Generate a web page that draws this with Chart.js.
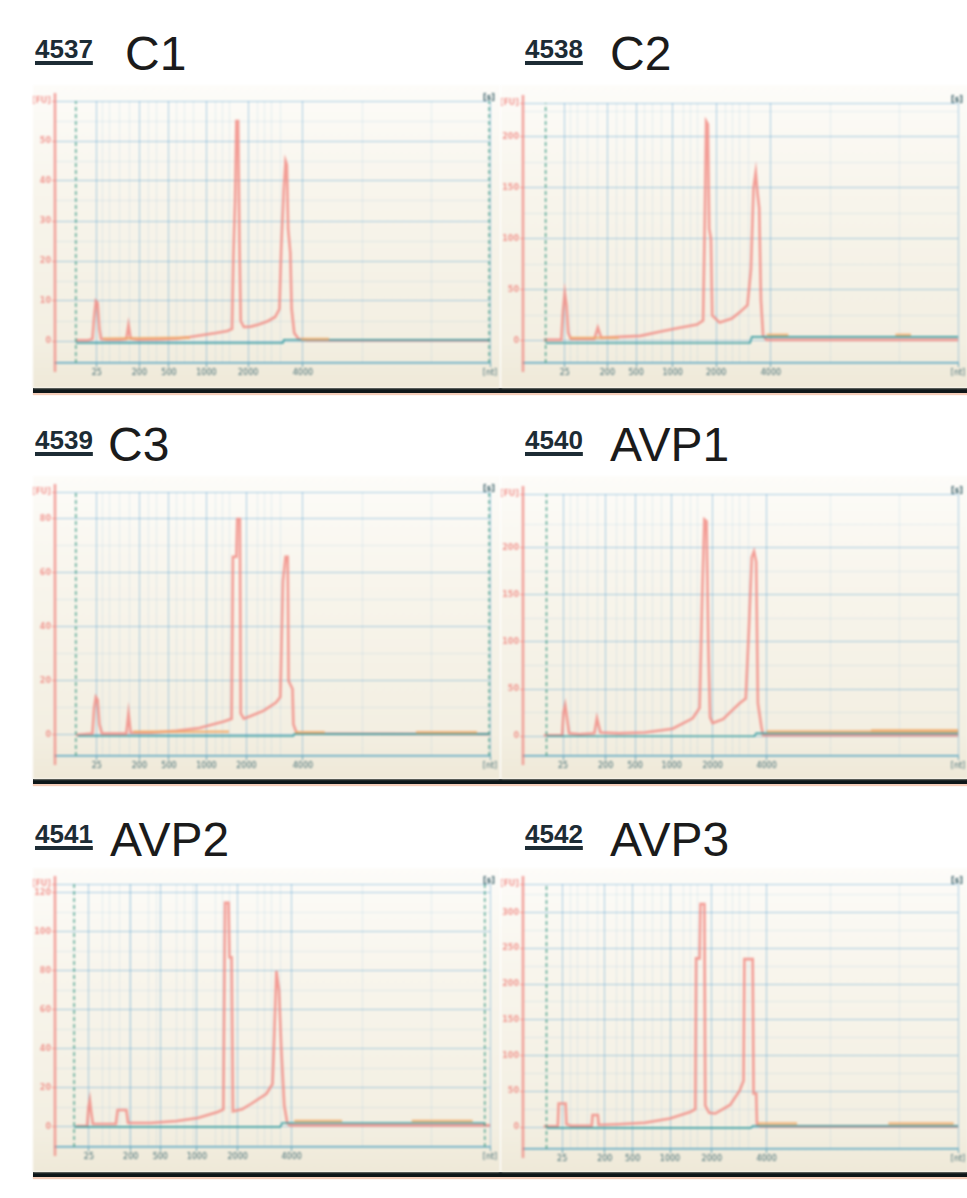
<!DOCTYPE html>
<html>
<head>
<meta charset="utf-8">
<script src="https://cdn.jsdelivr.net/npm/chart.js@4/dist/chart.umd.min.js"></script>
<style>
  html, body { margin: 0; padding: 0; }
  body { width: 967px; height: 1198px; background: #ffffff; position: relative; overflow: hidden;
         font-family: "Liberation Sans", Arial, sans-serif; }
  .plot { position: absolute; width: 467px;
          background: linear-gradient(180deg, #fdfcf9 0%, #f8f5ec 35%, #f3efe2 85%, #efe9d8 100%);
          filter: blur(0.85px); }
  .sid { position: absolute; font: bold 26px/1 "Liberation Sans", Arial, sans-serif; color: #1d2c35;
         text-decoration: underline; text-decoration-thickness: 4px; text-underline-offset: 3px; }
  .sname { position: absolute; font: 48px/1 "Liberation Sans", Arial, sans-serif; color: #1b1b1b; }
  .rule { position: absolute; left: 33px; width: 934px; height: 5px; background: #0e1719;
          box-shadow: 0 2px 1px #f5cdb9; }
</style>
</head>
<body>
<script>
// ---- electropherogram data (migration time in s, fluorescence in FU) ----
const xMin = 19, xMax = 69;
const ladderSizes = [25, 200, 500, 1000, 2000, 4000];
const minorTimes = [24.5, 25.3, 26.4, 27.6, 29.7, 30.7, 33.0, 33.9, 34.9, 37.4, 38.2, 39.1,
                    42.3, 43.1, 43.9, 44.9, 54.4, 62.3];

const sampleIds = ['4537', '4538', '4539', '4540', '4541', '4542'];
const sampleNames = ['C1', 'C2', 'C3', 'AVP1', 'AVP2', 'AVP3'];

const ladderTimesC1 = [23.8, 28.7, 32.1, 36.4, 41.2, 47.5];
const ladderTimesC2 = [23.8, 28.7, 32.0, 36.2, 41.2, 47.5];
const ladderTimesC3 = [23.8, 28.7, 32.1, 36.4, 41.0, 47.5];
const ladderTimesAVP1 = [23.6, 28.5, 31.9, 36.1, 40.8, 47.0];
const ladderTimesAVP2 = [22.9, 27.7, 31.1, 35.3, 40.0, 46.2];
const ladderTimesAVP3 = [23.5, 28.4, 31.6, 35.9, 40.7, 47.0];

const yTicksC1 = [0, 10, 20, 30, 40, 50];
const yTicksC2 = [0, 50, 100, 150, 200];
const yTicksC3 = [0, 20, 40, 60, 80];
const yTicksAVP1 = [0, 50, 100, 150, 200];
const yTicksAVP2 = [0, 20, 40, 60, 80, 100, 120];
const yTicksAVP3 = [0, 50, 100, 150, 200, 250, 300];

const yRangeC1 = [-5.5, 60];
const yRangeC2 = [-21.6, 233];
const yRangeC3 = [-7.8, 90];
const yRangeAVP1 = [-21, 257];
const yRangeAVP2 = [-10.3, 124.6];
const yRangeAVP3 = [-30.6, 340];

const windowC1 = [21.4, 68.9];
const windowC2 = [21.6, 69.2];
const windowC3 = [21.4, 68.9];
const windowAVP1 = [21.7, 69.2];
const windowAVP2 = [21.2, 68.4];
const windowAVP3 = [21.7, 69.2];

const traceC1 = [[21.4,0.2],[22.8,0.2],[23.3,0.5],[23.5,6],[23.7,10],[23.9,9.5],[24.1,3],[24.3,0.5],
  [25.0,0.3],[26.5,0.3],[27.2,0.5],[27.45,4],[27.7,0.6],[28.5,0.3],[31.0,0.4],[33.0,0.6],[34.5,1.0],
  [36.0,1.5],[37.5,2.0],[38.8,2.5],[39.35,3.0],[39.5,21],[39.7,35],[39.85,55],[40.05,55],[40.2,25],
  [40.35,5],[40.7,3.5],[41.5,3.6],[42.5,4.2],[43.5,5],[44.3,6],[44.8,8],[45.0,23],[45.3,38],[45.5,45],
  [45.65,44],[45.8,28],[46.05,22],[46.2,8],[46.5,2],[47.0,0.5],[48,0.2],[69,0.2]];
const traceC2 = [[21.4,1],[23.4,1],[23.6,30],[23.8,47],[24.0,35],[24.2,8],[24.5,2],[27.2,2],[27.6,13],
  [28.0,3],[30.1,4],[32.5,5],[34.7,9],[37,13],[39.0,16],[39.7,20],[39.9,120],[40.05,215],[40.25,212],
  [40.4,110],[40.6,100],[40.75,25],[41.6,18],[43,22],[43.9,28],[44.8,35],[45.2,70],[45.5,150],
  [45.75,165],[45.95,145],[46.15,130],[46.35,40],[46.6,5],[47,1],[69,1]];
const traceC3 = [[21.4,0],[23.3,0.5],[23.5,10],[23.7,14],[23.9,13],[24.1,4],[24.4,0.5],[27.2,0.5],
  [27.45,8],[27.7,0.8],[30,0.8],[33,1.5],[35.6,2.6],[38.4,5],[39.3,6],[39.45,66],[39.85,66],[39.95,80],
  [40.25,80],[40.35,8],[40.7,6],[41.5,7],[43,9],[44.4,12],[44.9,14],[45.2,57],[45.5,66],[45.75,66],
  [45.85,20],[46.3,17],[46.4,4],[46.8,0.5],[69,0.3]];
const traceAVP1 = [[21.4,1],[23.5,1],[23.65,25],[23.85,33],[24.05,20],[24.3,3],[25.5,2],[27.2,3],
  [27.5,19],[27.9,4],[30,3],[33,4],[36.2,8],[38.5,19],[39.3,30],[39.6,150],[39.85,230],[40.1,228],
  [40.3,100],[40.5,20],[40.8,14],[42,18],[43.1,28],[43.9,35],[44.6,40],[44.95,110],[45.3,190],
  [45.55,196],[45.8,185],[46.0,35],[46.4,10],[46.6,1],[69,1]];
const traceAVP2 = [[21.4,0.5],[22.7,0.5],[22.85,10],[23.0,13.8],[23.15,8],[23.35,1.5],[26.0,1.5],
  [26.2,8.7],[27.2,8.7],[27.4,2],[30,2],[33,3],[35.4,4.6],[37.7,7.7],[38.35,9],[38.55,115],[38.95,115],
  [39.05,87],[39.3,87],[39.45,8],[40.5,9],[41.6,12],[43.3,17],[44.0,22],[44.15,40],[44.45,80],
  [44.75,70],[45.0,41],[45.35,11],[45.7,2],[46,0.8],[69,0.8]];
const traceAVP3 = [[21.4,1],[23.0,1],[23.1,33],[23.9,33],[24.0,4],[24.5,2],[26.9,2],[27.0,17],
  [27.6,17],[27.7,3],[30,4],[33,6],[35.9,12],[38.2,21],[38.8,25],[38.9,236],[39.3,236],[39.4,312],
  [39.85,312],[39.95,30],[40.4,20],[41.1,19],[42.8,31],[43.9,51],[44.35,65],[44.45,235],[45.4,235],
  [45.5,47],[45.8,47],[45.9,3],[46.3,1],[69,1]];

const baselineC1 = [[21.4,-0.5],[45.2,-0.5],[45.3,0.3],[68.9,0.3]];
const baselineC2 = [[21.6,-2],[45.1,-2],[45.3,4],[69.2,4]];
const baselineC3 = [[21.6,-0.4],[46.4,-0.4],[46.5,0.3],[68.9,0.3]];
const baselineAVP1 = [[21.7,0],[45.6,0],[45.8,3],[69.2,3]];
const baselineAVP2 = [[21.2,0],[44.9,0],[45.1,2],[68.4,2]];
const baselineAVP3 = [[21.7,-1],[45.2,-1],[45.4,1.5],[69.2,1.5]];

const orangeC1 = [[[24.5,0.6],[34.5,0.8]], [[47.3,0.5],[50.5,0.5]]];
const orangeC2 = [[[24.4,3],[30.0,3]], [[47.0,6],[49.5,6]], [[61.8,6],[63.6,6]]];
const orangeC3 = [[[28.0,1.2],[39.0,1.2]], [[46.6,1],[50.0,1]], [[60.5,1],[67.5,1]]];
const orangeAVP1 = [[[47.0,5],[69.0,5]], [[59.0,6],[69.0,6]]];
const orangeAVP2 = [[[46.5,3],[52.0,3]], [[60.0,3],[67.0,3]]];
const orangeAVP3 = [[[46.0,5],[50.5,5]], [[61.0,5],[68.5,5]]];

// ---- page layout ----
const panels = [
  { trace: traceC1, ladder: ladderTimesC1, yTicks: yTicksC1, yRange: yRangeC1, win: windowC1, base: baselineC1, orange: orangeC1,
    left: 33, top: 85, h: 303, padTop: 16, xAxisH: 25 },
  { trace: traceC2, ladder: ladderTimesC2, yTicks: yTicksC2, yRange: yRangeC2, win: windowC2, base: baselineC2, orange: orangeC2,
    left: 501, top: 85, h: 303, padTop: 18, xAxisH: 25 },
  { trace: traceC3, ladder: ladderTimesC3, yTicks: yTicksC3, yRange: yRangeC3, win: windowC3, base: baselineC3, orange: orangeC3,
    left: 33, top: 476, h: 303, padTop: 16, xAxisH: 23 },
  { trace: traceAVP1, ladder: ladderTimesAVP1, yTicks: yTicksAVP1, yRange: yRangeAVP1, win: windowAVP1, base: baselineAVP1, orange: orangeAVP1,
    left: 501, top: 476, h: 303, padTop: 18, xAxisH: 23 },
  { trace: traceAVP2, ladder: ladderTimesAVP2, yTicks: yTicksAVP2, yRange: yRangeAVP2, win: windowAVP2, base: baselineAVP2, orange: orangeAVP2,
    left: 33, top: 868, h: 304, padTop: 16, xAxisH: 25 },
  { trace: traceAVP3, ladder: ladderTimesAVP3, yTicks: yTicksAVP3, yRange: yRangeAVP3, win: windowAVP3, base: baselineAVP3, orange: orangeAVP3,
    left: 501, top: 868, h: 304, padTop: 16, xAxisH: 23 }
];

const headings = [
  { idLeft: 35, idTop: 36, nameLeft: 125, nameTop: 30 },
  { idLeft: 525, idTop: 36, nameLeft: 610, nameTop: 30 },
  { idLeft: 35, idTop: 427, nameLeft: 108, nameTop: 421 },
  { idLeft: 525, idTop: 427, nameLeft: 610, nameTop: 421 },
  { idLeft: 35, idTop: 821, nameLeft: 110, nameTop: 816 },
  { idLeft: 525, idTop: 821, nameLeft: 610, nameTop: 816 }
];
const ruleTops = [388, 779, 1172];

const PINK = 'rgba(240,128,122,0.72)';
const GRID_MAJOR = 'rgba(90,162,208,0.5)';
const GRID_MINOR = 'rgba(120,180,215,0.18)';

const toPts = arr => arr.map(([x, y]) => ({ x, y }));

// pink FU axis that runs a little past the plot, plus the small time unit tag
const frame = {
  id: 'frame',
  afterDraw(chart) {
    const { ctx, chartArea: a } = chart;
    ctx.save();
    ctx.strokeStyle = PINK;
    ctx.lineWidth = 2.5;
    ctx.beginPath();
    ctx.moveTo(a.left, a.top - 8);
    ctx.lineTo(a.left, a.bottom + 9);
    ctx.stroke();
    ctx.fillStyle = '#3a6069';
    ctx.font = 'bold 8px "DejaVu Sans", sans-serif';
    ctx.textAlign = 'right';
    ctx.textBaseline = 'bottom';
    ctx.fillText('[s]', a.right + 5, a.top + 1);
    ctx.restore();
  }
};

ruleTops.forEach(t => {
  const r = document.createElement('div');
  r.className = 'rule';
  r.style.top = t + 'px';
  document.body.appendChild(r);
});

headings.forEach((hd, i) => {
  const id = document.createElement('div');
  id.className = 'sid';
  id.style.left = hd.idLeft + 'px';
  id.style.top = hd.idTop + 'px';
  id.textContent = sampleIds[i];
  document.body.appendChild(id);
  const nm = document.createElement('div');
  nm.className = 'sname';
  nm.style.left = hd.nameLeft + 'px';
  nm.style.top = hd.nameTop + 'px';
  nm.textContent = sampleNames[i];
  document.body.appendChild(nm);
});

panels.forEach(p => {
  const cv = document.createElement('canvas');
  cv.className = 'plot';
  cv.width = 467;
  cv.height = p.h;
  cv.style.left = p.left + 'px';
  cv.style.top = p.top + 'px';
  cv.style.height = p.h + 'px';
  document.body.appendChild(cv);

  const [yMin, yMax] = p.yRange;
  const yStep = p.yTicks[1] - p.yTicks[0];
  const yMinor = p.yTicks.map(v => v + yStep / 2).filter(v => v < yMax - 1e-6);
  const yMajorSet = new Set([...p.yTicks, yMax]);
  const xMajorSet = new Set([...p.ladder, xMax]);
  const xLabel = new Map(p.ladder.map((t, i) => [t, String(ladderSizes[i])]));
  xLabel.set(xMax, '[nt]');

  const datasets = [
    { data: toPts(p.trace), borderColor: 'rgba(242,138,130,0.82)', borderWidth: 2.6, order: 5 },
    { data: toPts(p.base), borderColor: '#3a9ea4', borderWidth: 1.6, order: 4 },
    ...p.orange.map(seg => ({ data: toPts(seg), borderColor: 'rgba(240,168,100,0.8)', borderWidth: 2.4, order: 2 })),
    { data: [{ x: p.win[0], y: yMin }, { x: p.win[0], y: yMax }], borderColor: '#3f9b86', borderWidth: 1.3, borderDash: [4, 3], order: 3 },
    { data: [{ x: p.win[1], y: yMin }, { x: p.win[1], y: yMax }], borderColor: '#3f9b86', borderWidth: 1.3, borderDash: [4, 3], order: 3 }
  ];

  new Chart(cv, {
    type: 'line',
    data: { datasets },
    options: {
      responsive: false,
      animation: false,
      devicePixelRatio: 1,
      layout: { padding: { top: p.padTop, right: 10, left: 0, bottom: 0 } },
      elements: { point: { radius: 0 }, line: { tension: 0 } },
      plugins: { legend: { display: false }, tooltip: { enabled: false } },
      scales: {
        x: {
          type: 'linear', min: xMin, max: xMax,
          afterBuildTicks: s => { s.ticks = [...p.ladder, ...minorTimes, xMax].sort((a, b) => a - b).map(v => ({ value: v })); },
          afterFit: s => { s.height = p.xAxisH; },
          ticks: {
            autoSkip: false, maxRotation: 0, padding: 1,
            color: '#3e6a73', font: { size: 8, family: '"DejaVu Sans", sans-serif' },
            callback: v => xLabel.has(v) ? xLabel.get(v) : ''
          },
          grid: {
            color: c => (c.tick && xMajorSet.has(c.tick.value)) ? GRID_MAJOR : GRID_MINOR,
            tickColor: c => (c.tick && xMajorSet.has(c.tick.value)) ? 'rgba(60,140,170,0.8)' : 'rgba(0,0,0,0)',
            tickLength: 4
          },
          border: { display: true, color: '#55a3c2', width: 1.6 }
        },
        y: {
          type: 'linear', min: yMin, max: yMax,
          afterBuildTicks: s => { s.ticks = [...p.yTicks, ...yMinor, yMax].sort((a, b) => a - b).map(v => ({ value: v })); },
          afterFit: s => { s.width = 22; },
          ticks: {
            autoSkip: false, padding: 1,
            color: 'rgba(238,118,112,0.72)', font: { size: 8, weight: 'bold', family: '"DejaVu Sans", sans-serif' },
            callback: v => v === yMax ? '[FU]' : (p.yTicks.includes(v) ? String(v) : '')
          },
          grid: {
            color: c => (c.tick && yMajorSet.has(c.tick.value)) ? GRID_MAJOR : GRID_MINOR,
            tickColor: c => (c.tick && yMajorSet.has(c.tick.value)) ? PINK : 'rgba(0,0,0,0)',
            tickLength: 3
          },
          border: { display: false }
        }
      }
    },
    plugins: [frame]
  });
});
</script>
</body>
</html>
